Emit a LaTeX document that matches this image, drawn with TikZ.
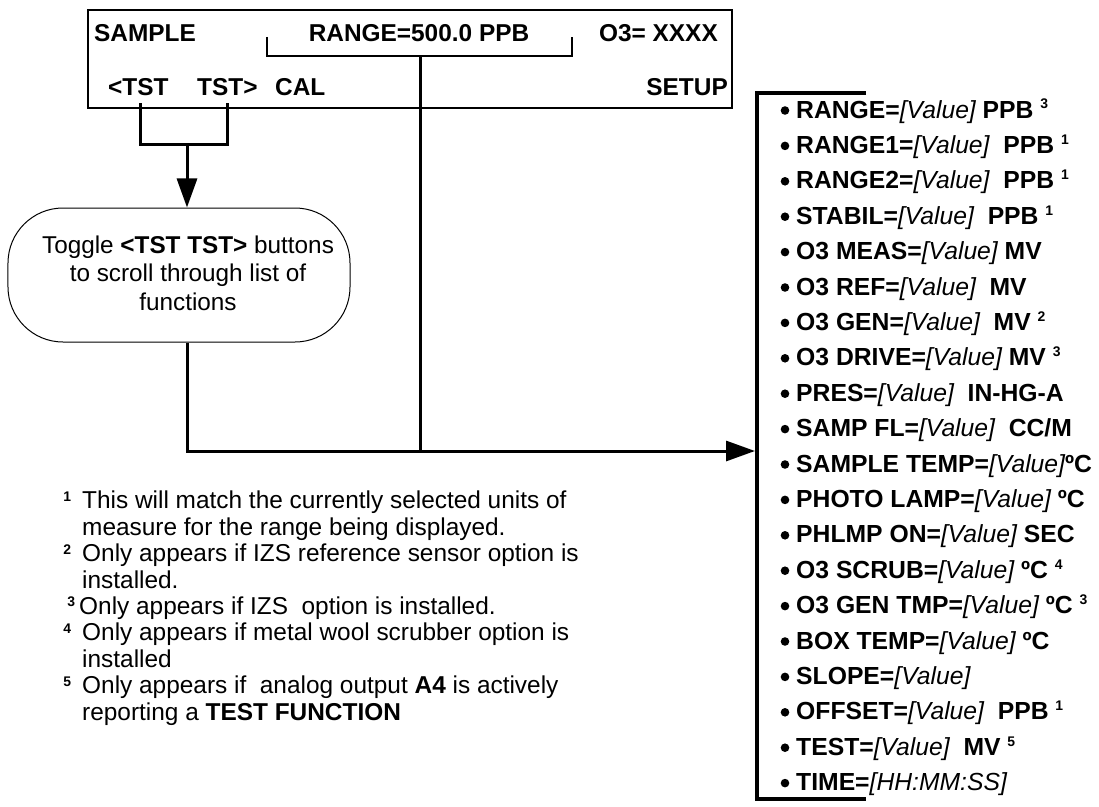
\documentclass[tikz,border=0pt]{standalone}
\usepackage{fontspec}
\setmainfont{Liberation Sans}
\usetikzlibrary{arrows.meta,calc}
\newcommand{\vl}{{\mdseries\itshape [Value]}}
\newcommand{\sps}[1]{\raisebox{9bp}{\fontsize{14}{14}\selectfont\bfseries #1}}
\newcommand{\fns}[1]{\raisebox{7.5bp}{\fontsize{14}{14}\selectfont\bfseries #1}}
\begin{document}
\begin{tikzpicture}[x=1bp,y=-1bp,
  conn/.style={line width=3bp},
  brk/.style={line width=2.5bp},
  tip/.style={-{Triangle[length=29bp,width=20bp]}},
  lbl/.style={inner sep=0pt, font=\fontsize{24.5}{28}\selectfont\bfseries, anchor=base west},
  item/.style={inner sep=0pt, font=\fontsize{24.8}{28}\selectfont\bfseries, anchor=base west}]
\useasboundingbox (0,0) rectangle (1099,807);
% display box
\node[draw, line width=2.5bp, minimum width=644bp, minimum height=98bp, inner sep=0pt] (disp) at (410,59) {};
\node[lbl] (sample) at (94,42) {SAMPLE};
\node[lbl, anchor=base] (range) at (419,42) {RANGE=500.0 PPB};
\node[lbl, anchor=base east] (o3) at (718,42) {O3= XXXX};
\node[lbl] (tstl) at (108,96) {<TST};
\node[lbl] (tstr) at (197,96) {TST>};
\node[lbl] (cal) at (275,96) {CAL};
\node[lbl, anchor=base east] (setup) at (728,96) {SETUP};
% toggle pill
\node[draw, line width=1bp, rounded corners=55bp, minimum width=342bp, minimum height=134bp, inner sep=0pt] (toggle) at (179,275) {};
\node[align=center, inner sep=0pt, font=\fontsize{24.4}{28.5}\selectfont] (toggletext) at (188,273) {Toggle \textbf{<TST TST>} buttons\\to scroll through list of\\functions};
% coordinates
\coordinate (tstLtop) at (140,103);
\coordinate (tstRtop) at (227,103);
\coordinate (tstLbot) at (140,144);
\coordinate (tstRbot) at (227,144);
\coordinate (tstMid) at (187,144);
\coordinate (rngL) at (267,37);
\coordinate (rngLb) at (267,56);
\coordinate (rngRb) at (572,56);
\coordinate (rngR) at (572,37);
\coordinate (rngMid) at (420,56);
\coordinate (join) at (420,451);
\coordinate (lTop) at (866,93);
\coordinate (lTL) at (757,93);
\coordinate (lBL) at (757,799);
\coordinate (lBot) at (866,799);
\coordinate (arrEnd) at (755,451);
% connectors
\draw[conn] (tstLtop) -- (tstLbot) -- (tstRbot) -- (tstRtop);
\draw[conn, tip] (tstMid) -- (tstMid |- toggle.north);
\draw[brk] (rngL) -- (rngLb) -- (rngRb) -- (rngR);
\draw[conn] (rngMid) -- (join);
\draw[conn, tip] (toggle.south -| tstMid) -- (tstMid |- join) -- (arrEnd);
\draw[line width=4bp] (lTop) -- (lTL) -- (lBL) -- (lBot);
% list
\foreach \t [count=\i from 0] in {
  {RANGE=\vl{} PPB \sps{3}},
  {RANGE1=\vl\ \ PPB \sps{1}},
  {RANGE2=\vl\ \ PPB \sps{1}},
  {STABIL=\vl\ \ PPB \sps{1}},
  {O3 MEAS=\vl{} MV},
  {O3 REF=\vl\ \ MV},
  {O3 GEN=\vl\ \ MV \sps{2}},
  {O3 DRIVE=\vl{} MV \sps{3}},
  {PRES=\vl\ \ IN-HG-A},
  {SAMP FL=\vl\ \ CC/M},
  {SAMPLE TEMP=\vl ºC},
  {PHOTO LAMP=\vl{} ºC},
  {PHLMP ON=\vl{} SEC},
  {O3 SCRUB=\vl{} ºC \sps{4}},
  {O3 GEN TMP=\vl{} ºC \sps{3}},
  {BOX TEMP=\vl{} ºC},
  {SLOPE=\vl},
  {OFFSET=\vl\ \ PPB \sps{1}},
  {TEST=\vl\ \ MV \sps{5}},
  {TIME={\mdseries\itshape [HH:MM:SS]}}} {
  \node[item] (it\i) at (796,{118+35.4*\i}) {\t};
  \fill ($(it\i.base west)+(-11,-7.5)$) circle (4.3bp);
}
% footnotes (anchored at the baseline of the last line)
\node[anchor=base west, align=left, inner sep=0pt, font=\fontsize{24.5}{26.5}\selectfont] (notes) at (82,720) {%
\llap{\fns{1}\hspace{11bp}}This will match the currently selected units of\\
measure for the range being displayed.\\
\llap{\fns{2}\hspace{11bp}}Only appears if IZS reference sensor option is\\
installed.\\
\hspace{-3bp}\llap{\fns{3}\hspace{4bp}}Only appears if IZS\ \ option is installed.\\
\llap{\fns{4}\hspace{11bp}}Only appears if metal wool scrubber option is\\
installed\\
\llap{\fns{5}\hspace{11bp}}Only appears if\ \ analog output \textbf{A4} is actively\\
reporting a \textbf{TEST FUNCTION}};
\end{tikzpicture}
\end{document}
